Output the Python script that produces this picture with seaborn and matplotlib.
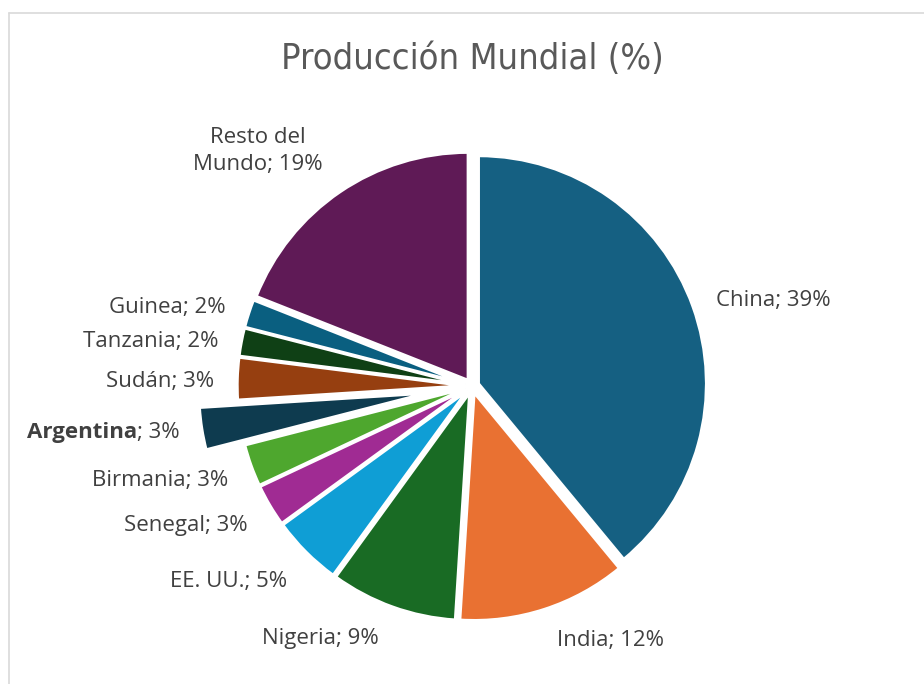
import matplotlib
matplotlib.use("Agg")
import matplotlib.pyplot as plt
from matplotlib.lines import Line2D
import seaborn as sns

# ---------------- data ----------------
countries = ["China", "India", "Nigeria", "EE. UU.", "Senegal", "Birmania",
             "Argentina", "Sudán", "Tanzania", "Guinea", "Resto del\nMundo"]
shares = [39, 12, 9, 5, 3, 3, 3, 3, 2, 2, 19]
highlight = "Argentina"
title = "Producción Mundial (%)"

# ---------------- style ----------------
colors = ["#156082", "#E97132", "#196B24", "#0F9ED5", "#A02B93", "#4EA72E",
          "#0E3B4F", "#963F10", "#0F4015", "#0A5F80", "#5F1A56"]
base_explode = 0.03
highlight_explode = 0.20

sns.set_theme(style="white")
plt.rcParams["font.family"] = ["Open Sans", "DejaVu Sans"]

W, H = 924, 684
CX, CY, R = 472, 386, 228  # pie centre / radius in pixels


def to_data(px, py):
    return (px - CX) / R, (CY - py) / R


# label anchor layout (pixels): (x, y, ha)
label_layout = {
    "China": (716, 306, "left"),
    "India": (610, 646, "center"),
    "Nigeria": (320, 644, "center"),
    "EE. UU.": (287, 587, "right"),
    "Senegal": (248, 531, "right"),
    "Birmania": (228, 486, "right"),
    "Argentina": (27, 438, "left"),
    "Sudán": (214, 387, "right"),
    "Tanzania": (218, 347, "right"),
    "Guinea": (226, 313, "right"),
    "Resto del\nMundo": (258, 151, "center"),
}

fig = plt.figure(figsize=(W / 100, H / 100), dpi=100)
fig.patch.set_facecolor("white")
ax = fig.add_axes([0, 0, 1, 1])

explode = [highlight_explode if c == highlight else base_explode for c in countries]
wedges, _ = ax.pie(shares, colors=colors, startangle=90, counterclock=False,
                   explode=explode, radius=1.0, center=(0, 0),
                   wedgeprops=dict(edgecolor="white", linewidth=2.2))

x0, y0 = to_data(0, H)
x1, y1 = to_data(W, 0)
ax.set_xlim(x0, x1)
ax.set_ylim(y0, y1)
ax.set_aspect("equal")
ax.axis("off")

label_color = "#404040"
fs = 16
for name, val in zip(countries, shares):
    px, py, ha = label_layout[name]
    x, y = to_data(px, py)
    if name == highlight:
        t = ax.text(x, y, name, ha="left", va="baseline", fontsize=fs,
                    fontweight="bold", color=label_color)
        ax.annotate(f"; {val}%", xy=(1, 0), xycoords=t, ha="left", va="bottom",
                    fontsize=fs, color=label_color)
    elif "\n" in name:
        ax.text(x, y, f"{name}; {val}%", ha="center", va="center",
                multialignment="center", fontsize=fs, color=label_color,
                linespacing=1.4)
    else:
        ax.text(x, y, f"{name}; {val}%", ha=ha, va="baseline", fontsize=fs,
                color=label_color)

# title
tx, ty = to_data(472, 69)
ax.text(tx, ty, title, ha="center", va="baseline", fontsize=26,
        color="#595959", family="DejaVu Sans", fontstretch="condensed")

# chart-area border (left and top visible)
fig.add_artist(Line2D([9 / W, 9 / W], [0, 1 - 13 / H], transform=fig.transFigure,
                      color="#D9D9D9", linewidth=1.2))
fig.add_artist(Line2D([9 / W, 1], [1 - 13 / H, 1 - 13 / H], transform=fig.transFigure,
                      color="#D9D9D9", linewidth=1.2))

fig.savefig("out.png", dpi=100, facecolor="white")
